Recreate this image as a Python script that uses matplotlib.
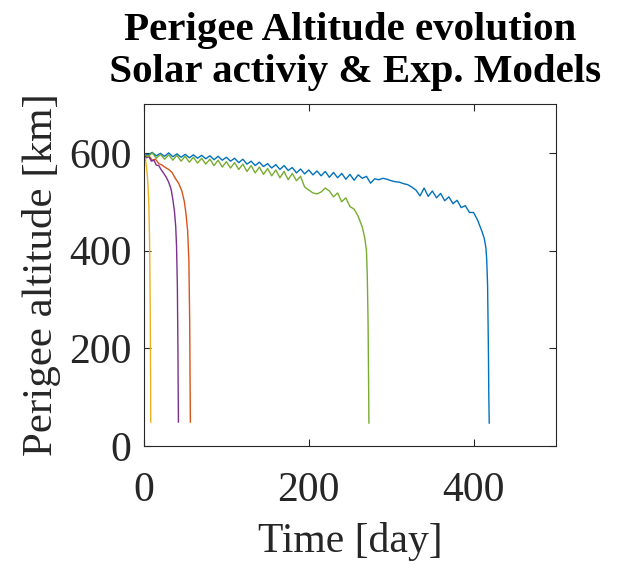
## perigee altitude decay for several solar activity / exponential models
## values

import numpy as np
from matplotlib import pyplot as plt

plt.rcParams['font.family'] = 'Liberation Serif'

## MATLAB default colour order
c_blue = '#0072BD'
c_orange = '#D95319'
c_yellow = '#EDB120'
c_purple = '#7E2F8E'
c_green = '#77AC30'

## blue run, sampled every 5 days up to day 405, then the final drop
blue_day = list(np.arange(0, 410, 5)) + [410, 413, 415, 416, 417, 418, 418.5, 419]
blue_alt = [598, 596, 601, 594, 599, 593, 600, 592, 598, 591,
            597, 590, 596, 589, 595, 588, 594, 586, 593, 585,
            591, 583, 589, 580, 587, 577, 583, 574, 581, 572,
            578, 569, 576, 566, 574, 564, 570, 559, 567, 557,
            565, 555, 563, 553, 562, 550, 560, 549, 558, 546,
            556, 544, 555, 548, 552, 538, 547, 545, 548, 546,
            543, 541, 540, 537, 535, 530, 524, 512, 528, 511,
            522, 508, 517, 502, 510, 496, 503, 488, 492, 478,
            478, 462,
            440, 425, 405, 380, 330, 200, 100, 47]

## green run
green_day = list(np.arange(0, 270, 5)) + [268, 270, 271, 272, 272.5, 273]
green_alt = [598, 592, 600, 589, 597, 587, 596, 585, 595, 583,
             593, 581, 591, 579, 589, 577, 587, 574, 585, 571,
             582, 569, 580, 566, 577, 562, 574, 559, 571, 556,
             568, 553, 565, 549, 562, 545, 558, 543, 552, 530,
             524, 518, 516, 520, 528, 522, 510, 518, 500, 508,
             490, 485, 470, 448,
             425, 400, 350, 250, 150, 47]

orange_day = [0, 3, 6, 10, 14, 18, 22, 26, 30, 34, 38, 42, 46, 49, 51, 53, 54.5, 55.5, 56, 56.3]
orange_alt = [598, 592, 594, 585, 587, 578, 575, 570, 566, 560, 548, 538, 522, 500, 475, 440, 380, 250, 120, 49]

purple_day = [0, 3, 6, 9, 12, 15, 18, 21, 24, 27, 30, 33, 35, 37, 38.5, 39.5, 40.5, 41.2, 41.6, 41.8]
purple_alt = [598, 590, 592, 583, 585, 575, 574, 565, 558, 550, 540, 525, 505, 480, 450, 410, 330, 200, 100, 49]

yellow_day = [0, 1, 2, 3, 4, 5, 6, 6.8, 7.5, 8, 8.2]
yellow_alt = [598, 592, 585, 572, 555, 530, 490, 420, 300, 150, 49]

fig = plt.figure(figsize=(6.23, 5.65), dpi=100)
ax = fig.add_axes([0.2311, 0.2106, 0.6613, 0.6053])

lw = 1.0
ax.plot(blue_day, blue_alt, color=c_blue, lw=lw)
ax.plot(orange_day, orange_alt, color=c_orange, lw=lw)
ax.plot(yellow_day, yellow_alt, color=c_yellow, lw=lw)
ax.plot(purple_day, purple_alt, color=c_purple, lw=lw)
ax.plot(green_day, green_alt, color=c_green, lw=lw)

ax.set_xlim(0, 500)
ax.set_ylim(0, 700)
ax.set_xticks([0, 200, 400])
ax.set_yticks([0, 200, 400, 600])
ax.tick_params(direction='in', top=True, right=True, labelsize=30,
               length=5, width=0.8, colors='#262626')
ax.tick_params(axis='x', pad=18)
ax.tick_params(axis='y', pad=9)
for s in ax.spines.values():
    s.set_color('#262626')
    s.set_linewidth(0.8)

ax.set_xlabel('Time [day]', fontsize=30, color='#262626', labelpad=9)
ax.set_ylabel('Perigee altitude [km]', fontsize=31, color='#262626', labelpad=6)
ax.set_title('Perigee Altitude evolution\n Solar activiy & Exp. Models',
             fontsize=29.5, fontweight='bold', linespacing=1.17, pad=16)

plt.savefig('out.png', dpi=100)
